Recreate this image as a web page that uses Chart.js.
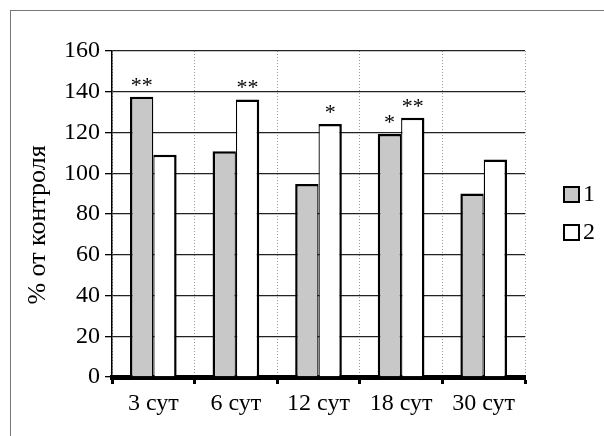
<!DOCTYPE html>
<html>
<head>
<meta charset="utf-8">
<script src="https://cdn.jsdelivr.net/npm/chart.js@4/dist/chart.umd.min.js"></script>
<style>
  html, body { margin: 0; padding: 0; background: #fff; }
  #wrap { position: relative; width: 604px; height: 436px; overflow: hidden; }
  #frame { position: absolute; left: 10px; top: 10px; width: 600px; height: 430px;
           border-left: 1.5px solid #777; border-top: 1.5px solid #777; pointer-events: none; }
  canvas { position: absolute; left: 0; top: 0; }
</style>
</head>
<body>
<div id="wrap">
  <canvas id="grafik" width="604" height="436"></canvas>
  <div id="frame"></div>
</div>
<script>
const kategori = ['3 сут', '6 сут', '12 сут', '18 сут', '30 сут'];
const seri1 = [137.5, 110.8, 94.7, 119.3, 90.1];
const seri2 = [109.1, 136.2, 124.2, 127.2, 106.8];
const namaSeri = ['1', '2'];
const labelY = '% от контроля';
// zvezdochki: [nomer seri, nomer kategorii, tekst]
const tanda = [[0, 0, '**'], [1, 1, '**'], [1, 2, '*'], [0, 3, '*'], [1, 3, '**']];

const hurufSerif = "'Liberation Serif', serif";
const warnaAbu = '#c8c8c8';

const pluginTambahan = {
    id: 'tambahan',
    afterDraw(chart) {
        const ctx = chart.ctx;
        const y = chart.scales.y;
        ctx.save();
        ctx.fillStyle = '#000';
        ctx.font = `22px ${hurufSerif}`;
        ctx.textAlign = 'center';
        ctx.textBaseline = 'alphabetic';
        tanda.forEach(([ds, i, teks]) => {
            const bar = chart.getDatasetMeta(ds).data[i];
            const nilai = chart.data.datasets[ds].data[i];
            ctx.fillText(teks, bar.x, y.getPixelForValue(nilai) - 5);
        });
        // judul sumbu Y
        ctx.save();
        ctx.font = `26px ${hurufSerif}`;
        ctx.translate(38, 225);
        ctx.rotate(-Math.PI / 2);
        ctx.textBaseline = 'middle';
        ctx.fillText(labelY, 0, 0);
        ctx.restore();
        // legenda
        const warna = [warnaAbu, '#fff'];
        ctx.font = `24px ${hurufSerif}`;
        namaSeri.forEach((nama, k) => {
            const ly = 187 + k * 38;
            ctx.fillStyle = warna[k];
            ctx.fillRect(564, ly, 15, 15);
            ctx.lineWidth = 2;
            ctx.strokeStyle = '#000';
            ctx.strokeRect(564, ly, 15, 15);
            ctx.fillStyle = '#000';
            ctx.textAlign = 'left';
            ctx.textBaseline = 'middle';
            ctx.fillText(nama, 583, ly + 8);
        });
        ctx.restore();
    }
};

const grafik = new Chart(document.getElementById('grafik'), {
    type: 'bar',
    data: {
        labels: kategori,
        datasets: [
            { label: namaSeri[0], data: seri1, backgroundColor: warnaAbu, borderColor: '#000',
              borderWidth: { left: 2.5, right: 1.3, top: 2.5, bottom: 0 }, borderSkipped: false },
            { label: namaSeri[1], data: seri2, backgroundColor: '#fff', borderColor: '#000',
              borderWidth: { left: 1.3, right: 2.5, top: 2.5, bottom: 0 }, borderSkipped: false }
        ]
    },
    options: {
        responsive: false,
        animation: false,
        layout: { padding: { top: 51, right: 79, left: 0, bottom: 0 } },
        datasets: { bar: { categoryPercentage: 0.565, barPercentage: 1.0 } },
        plugins: { legend: { display: false }, tooltip: { enabled: false } },
        scales: {
            x: {
                z: 1,
                afterFit: s => { s.height = 59; },
                grid: { color: '#999', lineWidth: 1, tickColor: '#000', tickWidth: 3, tickLength: 7, tickBorderDash: [] },
                border: { display: true, color: '#000', width: 5, dash: [1, 2] },
                ticks: { color: '#000', font: { family: hurufSerif, size: 24 }, padding: 5, maxRotation: 0 }
            },
            y: {
                min: 0, max: 160,
                afterFit: s => { s.width = 112; },
                grid: { color: '#222', lineWidth: 1.3, tickColor: '#000', tickLength: 7 },
                border: { display: true, color: '#000', width: 1.5 },
                ticks: { stepSize: 20, color: '#000', font: { family: hurufSerif, size: 24 }, padding: 5 }
            }
        }
    },
    plugins: [pluginTambahan]
});

// gambar ulang setelah font siap
document.fonts.ready.then(() => grafik.update());
</script>
</body>
</html>
